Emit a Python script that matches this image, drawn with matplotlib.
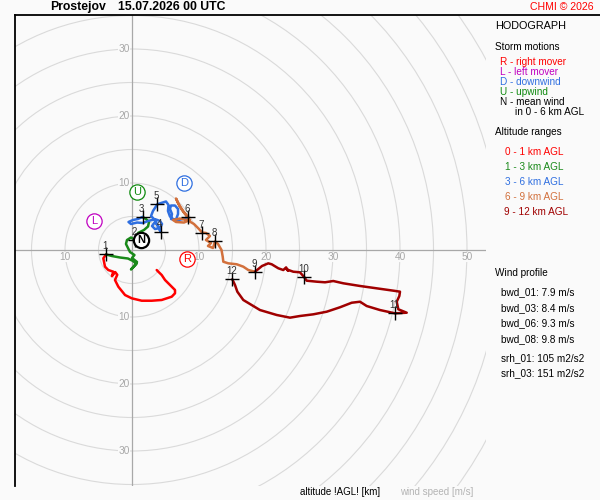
import matplotlib
matplotlib.use("Agg")
import matplotlib.pyplot as plt
from matplotlib.patches import Circle
from matplotlib.lines import Line2D

plt.rcParams['font.family'] = ['Liberation Sans', 'DejaVu Sans']

# hodograph trace, u / v in m/s, split by altitude range
u_0_1 = [3.69, 3.93, 4.43, 4.93, 5.67, 6.42, 6.42, 5.93, 4.43, 2.94, 1.45, -0.04, -1.04, -2.04,
         -2.54, -2.2, -2.5, -3.0, -2.79, -3.54, -4.03, -4.28, -3.88]
v_0_1 = [-2.99, -3.24, -3.73, -4.48, -5.22, -5.97, -6.46, -6.97, -7.46, -7.57, -7.57, -7.21, -6.72, -5.48,
         -4.48, -3.7, -3.3, -3.9, -3.24, -2.99, -2.49, -1.24, -0.67]

u_1_3 = [-3.88, -2.99, -1.79, -0.60, 0.15, 0.67, 0.30, -0.15, 0.30, 0.75, 0.0, 0.37, -0.30, -0.60,
         -0.90, -0.75, -0.15, 0.45, 0.90, 1.79, 2.39, 2.54, 2.09, 1.57]
v_1_3 = [-0.67, -0.90, -1.12, -1.27, -1.64, -2.09, -2.46, -2.91, -2.39, -1.79, -1.19, -0.75, -0.30, 0.30,
         0.90, 1.49, 1.87, 1.49, 2.54, 2.99, 3.51, 4.18, 4.63, 4.93]

u_3_6 = [1.57, 0.90, 0.15, -0.52, -0.15, 0.75, 1.64, 2.39, 2.99, 3.58, 4.18, 4.48, 4.18, 3.43, 2.99,
         3.43, 3.88, 4.28, 3.43, 2.84, 3.13, 3.78, 4.33, 5.07, 5.45, 5.37, 5.67, 6.12, 6.57, 6.87,
         6.87, 6.42, 5.82, 5.67, 5.97, 5.82, 6.57, 7.61, 8.36]
v_3_6 = [4.93, 4.63, 4.48, 4.18, 3.88, 4.10, 4.03, 4.33, 4.48, 4.55, 4.33, 3.88, 3.28, 3.13, 3.58,
         4.18, 3.58, 2.73, 4.48, 5.07, 5.82, 6.82, 7.01, 7.24, 6.72, 5.82, 5.00, 4.63, 4.55, 5.37,
         6.12, 6.64, 6.64, 6.12, 5.37, 4.63, 4.40, 4.63, 4.93]

u_6_9 = [8.36, 7.61, 6.87, 6.57, 7.16, 7.91, 8.66, 7.76, 6.57, 6.12, 7.16, 8.36, 9.25, 10.00, 10.45,
         11.04, 11.64, 11.04, 11.79, 11.34, 12.09, 12.39, 12.84, 13.36, 13.54, 13.63, 14.37, 15.63,
         16.61, 17.36, 18.36]
v_6_9 = [4.93, 5.82, 7.01, 7.69, 6.42, 5.37, 4.48, 4.10, 4.18, 4.48, 4.70, 4.40, 3.88, 3.13, 2.61,
         2.54, 2.09, 1.49, 1.04, 0.60, 0.30, 1.27, 0.90, 0.00, -1.00, -1.75, -1.99, -2.13,
         -2.49, -2.99, -3.24]

u_9_12 = [18.36, 19.40, 20.34, 20.85, 21.84, 22.58, 23.0, 23.3, 23.1, 24.07, 25.07, 25.72, 26.07,
          27.57, 28.81, 30.04, 31.54, 34.03, 36.52, 39.00, 40.00, 39.90, 39.51, 39.75, 41.00, 39.25,
          37.01, 35.03, 34.03, 32.79, 31.04, 29.06, 27.06, 25.07, 23.58, 21.60, 19.10, 16.61, 15.72,
          15.37, 14.97]
v_9_12 = [-3.24, -2.39, -1.99, -2.13, -2.73, -2.99, -2.6, -3.1, -2.9, -3.24, -3.33, -4.07, -4.58,
          -4.73, -4.82, -4.63, -4.97, -5.37, -5.72, -6.07, -6.22, -6.87, -7.72, -8.85, -9.36, -9.45,
          -8.96, -8.36, -7.72, -7.87, -8.55, -9.21, -9.60, -9.85, -10.10, -9.70, -8.96, -7.46, -6.22,
          -5.22, -4.37]

# altitude markers 1..12 km
km_labels = ['1', '2', '3', '4', '5', '6', '7', '8', '9', '10', '11', '12']
km_u = [-3.88, 0.45, 1.57, 4.28, 3.78, 8.36, 10.45, 12.39, 18.36, 25.72, 39.25, 14.97]
km_v = [-0.67, 1.49, 4.93, 2.73, 6.82, 4.93, 2.61, 1.27, -3.24, -4.07, -9.45, -4.37]

# storm motions
storm_names = ['R', 'L', 'D', 'U', 'N']
storm_u = [8.21, -5.67, 7.81, 0.70, 1.34]
storm_v = [-1.34, 4.33, 10.04, 8.70, 1.49]
storm_colors = ['#ff0000', '#c000c0', '#2f6fe0', '#0f8a0f', '#000000']

layer_names = ['0 - 1 km AGL', '1 - 3 km AGL', '3 - 6 km AGL', '6 - 9 km AGL', '9 - 12 km AGL']
layer_colors = ['#ff0000', '#1a8a1a', '#2f6fe0', '#d2703c', '#a00000']

wind_profile = ['bwd_01: 7.9 m/s', 'bwd_03: 8.4 m/s', 'bwd_06: 9.3 m/s', 'bwd_08: 9.8 m/s',
                'srh_01: 105 m2/s2', 'srh_03: 151 m2/s2']

x_ticks = [-10, 10, 20, 30, 40, 50]
y_ticks = [-30, -20, -10, 10, 20, 30]

bg = '#fafafa'
fig = plt.figure(figsize=(6, 5), dpi=100, facecolor=bg)
W, H = 600.0, 500.0


def ftext(x, y, s, **kw):
    # place text using pixel coordinates of the 600x500 image
    fig.text(x / W, 1 - y / H, s, va='center', **kw)


ax = fig.add_axes([15 / W, 14 / H, 471 / W, 471 / H])
ax.set_facecolor(bg)
ax.set_xlim(-117 / 6.7, 354 / 6.7)
ax.set_ylim(-236 / 6.7, 235 / 6.7)
ax.set_xticks([])
ax.set_yticks([])
for s in ['right', 'bottom']:
    ax.spines[s].set_visible(False)
ax.spines['left'].set_color('black')
ax.spines['left'].set_linewidth(1.3)
ax.spines['top'].set_visible(False)

for r in range(5, 80, 5):
    ax.add_patch(Circle((0, 0), r, fill=False, edgecolor='#dadada', lw=0.8, zorder=1))
ax.axhline(0, color='#a8a8a8', lw=0.9, zorder=2)
ax.axvline(0, color='#a8a8a8', lw=0.9, zorder=2)

for t in x_ticks:
    ax.text(t, -1.05, str(abs(t)), color='#a8a8a8', fontsize=7.3, ha='center', va='center',
            zorder=3, bbox=dict(facecolor=bg, edgecolor='none', pad=0.3))
for t in y_ticks:
    ax.text(-0.35, t, str(abs(t)), color='#a8a8a8', fontsize=7.3, ha='right', va='center',
            zorder=3, bbox=dict(facecolor=bg, edgecolor='none', pad=0.3))

layers_u = [u_0_1, u_1_3, u_3_6, u_6_9, u_9_12]
layers_v = [v_0_1, v_1_3, v_3_6, v_6_9, v_9_12]
for lu, lv, c in zip(layers_u, layers_v, layer_colors):
    ax.plot(lu, lv, color=c, lw=1.8, solid_joinstyle='round', solid_capstyle='round', zorder=4)

ax.plot(km_u, km_v, ls='none', marker='+', ms=10, mew=1.0, color='black', zorder=5)
for lab, x, y in zip(km_labels, km_u, km_v):
    ax.annotate(lab, (x, y), xytext=(-1, 3), textcoords='offset pixels', ha='center',
                va='bottom', fontsize=7, color='#333333', zorder=6)

for name, x, y, c in zip(storm_names, storm_u, storm_v, storm_colors):
    ew = 1.6 if name == 'N' else 0.9
    ax.plot(x, y, marker='o', ms=11, mfc='white', mec=c, mew=ew, zorder=7)
    ax.text(x, y, name, color=c, fontsize=8, ha='center', va='center',
            fontweight='bold' if name == 'N' else 'normal', zorder=8)

# top border line across the whole width
fig.add_artist(Line2D([15 / W, 1.0], [1 - 15 / H, 1 - 15 / H], color='black', lw=1.3))

ftext(50, 7, 'Prostejov', fontsize=8.8, fontweight='bold')
ftext(118, 7, '15.07.2026 00 UTC', fontsize=8.8, fontweight='bold')
ftext(530, 7, 'CHMI \u00a9 2026', fontsize=7.6, color='#ff0000')

ftext(495, 26, 'HODOGRAPH', fontsize=7.8)
ftext(495, 47, 'Storm motions', fontsize=7.2)
storm_desc = ['R - right mover', 'L - left mover', 'D - downwind', 'U - upwind', 'N - mean wind']
for i, (d, c) in enumerate(zip(storm_desc, storm_colors)):
    ftext(500, 62 + 10 * i, d, fontsize=7.2, color=c)
ftext(515, 112, 'in 0 - 6 km AGL', fontsize=7.2)

ftext(495, 132, 'Altitude ranges', fontsize=7.2)
for i, (n, c) in enumerate(zip(layer_names, layer_colors)):
    ftext(505 if i < 4 else 504, 152 + 15 * i, n, fontsize=7.2, color=c)

ftext(495, 273, 'Wind profile', fontsize=7.2)
wp_y = [292, 308, 323, 339, 358, 373]
for s, y in zip(wind_profile, wp_y):
    ftext(501, y, s, fontsize=7.2)

ftext(300, 492, 'altitude !AGL! [km]', fontsize=7)
ftext(400, 492, 'wind speed [m/s]', fontsize=7, color='#b4b4b4')

fig.savefig('out.png', dpi=100, facecolor=bg)
